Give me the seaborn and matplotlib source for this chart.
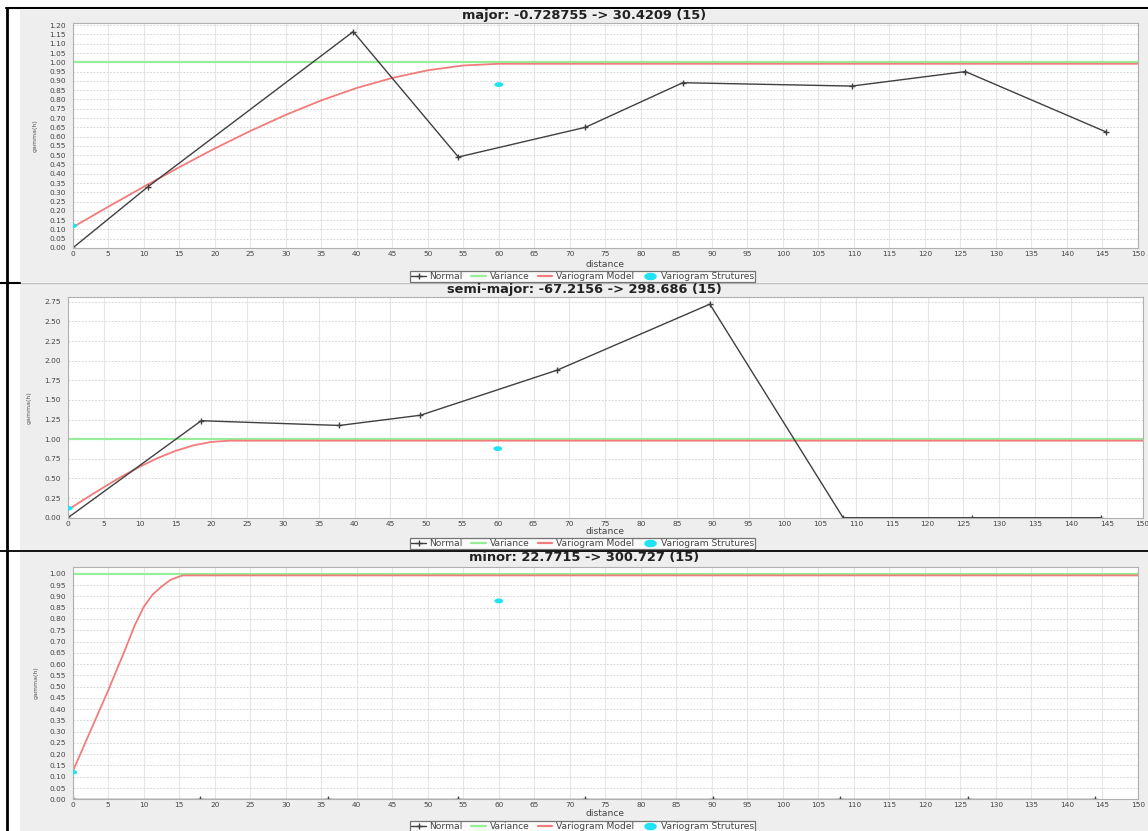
import numpy as np
import matplotlib
matplotlib.use("Agg")
import matplotlib.pyplot as plt
import matplotlib.transforms as mtransforms
from matplotlib.path import Path
from matplotlib.lines import Line2D
from matplotlib.patches import Rectangle
import seaborn as sns

# ---- experimental variogram points (lag distance, gamma) ----
major_lag = [0, 10.6, 39.5, 54.3, 72.2, 85.9, 109.7, 125.7, 145.5]
major_gamma = [0, 0.33, 1.165, 0.49, 0.65, 0.89, 0.872, 0.95, 0.625]

semi_lag = [0, 18.6, 37.9, 49.2, 68.3, 89.6, 108.2, 126.2, 144.2]
semi_gamma = [0, 1.235, 1.175, 1.305, 1.88, 2.72, 0, 0, 0]

minor_lag = [0, 17.9, 35.9, 54.3, 72.2, 90.1, 108.0, 126.0, 144.0]
minor_gamma = [0, 0, 0, 0, 0, 0, 0, 0, 0]

# ---- fitted variogram model curves ----
major_model_h = [0, 5, 10, 15, 20, 25, 30, 35, 40, 45, 50, 55, 60, 150]
major_model_g = [0.12, 0.23, 0.338, 0.443, 0.544, 0.638, 0.725, 0.803,
                 0.87, 0.924, 0.965, 0.991, 1.0, 1.0]

semi_model_h = [0, 2.5, 5, 7.5, 10, 12.5, 15, 17.5, 20, 22.5, 150]
semi_model_g = [0.12, 0.266, 0.408, 0.544, 0.668, 0.778, 0.870, 0.940,
                0.984, 1.0, 1.0]

minor_model_h = [0, 1.25, 2.5, 3.75, 5, 6.25, 7.5, 8.75, 10, 11.25, 12.5,
                 13.75, 15, 15.5, 150]
minor_model_g = [0.13, 0.22, 0.31, 0.40, 0.49, 0.585, 0.68, 0.78, 0.86,
                 0.915, 0.95, 0.98, 0.995, 1.0, 1.0]

# ---- sill (variance) and structure points ----
variance_h = [0, 150]
variance_g = [1.0, 1.0]
structure_h = [0, 60]
structure_g = [0.12, 0.88]

titles = ["major: -0.728755 -> 30.4209 (15)",
          "semi-major: -67.2156 -> 298.686 (15)",
          "minor: 22.7715 -> 300.727 (15)"]
legend_labels = ["Normal", "Variance", "Variogram Model", "Variogram Strutures"]

W, H = 1148, 831
sns.set_theme(style="white")
plt.rcParams["font.family"] = ["DejaVu Sans"]

fig = plt.figure(figsize=(W / 100, H / 100), dpi=100)
fig.patch.set_facecolor("white")


def fx(x):
    return x / W


def fy(y):
    return 1 - y / H


NORMAL_C = "#404040"
VAR_C = "#98ee98"
MODEL_C = "#f27c7c"
STRUCT_C = "#1fe3f2"
PANEL_BG = "#eeeeee"

# panel backgrounds and cell borders
panel_rows = [(10, 282), (284, 550), (552, 831)]
for top, bot in panel_rows:
    fig.patches.append(Rectangle((fx(20), fy(bot)), fx(W - 20), (bot - top) / H,
                                 transform=fig.transFigure, facecolor=PANEL_BG,
                                 edgecolor="none", zorder=-5))
fig.add_artist(Line2D([fx(7), fx(7)], [fy(7.5), 0], transform=fig.transFigure,
                      color="black", lw=2.0))
fig.add_artist(Line2D([fx(6), 1], [fy(8.3), fy(8.3)], transform=fig.transFigure,
                      color="black", lw=1.5))
fig.add_artist(Line2D([fx(20), 1], [fy(283), fy(283)], transform=fig.transFigure,
                      color="#bdbdbd", lw=1.0))
fig.add_artist(Line2D([0, fx(20)], [fy(283), fy(283)], transform=fig.transFigure,
                      color="black", lw=1.5))
fig.add_artist(Line2D([0, 1], [fy(551), fy(551)], transform=fig.transFigure,
                      color="black", lw=1.3))

# flattened dot used for the structure markers
ellipse = Path(Path.unit_circle().vertices * np.array([1.0, 0.55]),
               Path.unit_circle().codes)

panels = [
    dict(left=72.7, right=1138, top=23.3, bottom=248, ymax=1.21,
         yticks=np.arange(0, 1.2001, 0.05), lag=major_lag, gamma=major_gamma,
         mh=major_model_h, mg=major_model_g, title_y=15, xlabel_y=264,
         legend_y=276.7, ylabel_x=35),
    dict(left=68, right=1142.5, top=296.7, bottom=517.7, ymax=2.815,
         yticks=np.arange(0, 2.7501, 0.25), lag=semi_lag, gamma=semi_gamma,
         mh=semi_model_h, mg=semi_model_g, title_y=289, xlabel_y=531.5,
         legend_y=543.3, ylabel_x=29),
    dict(left=72.7, right=1138, top=566.7, bottom=799.3, ymax=1.032,
         yticks=np.arange(0, 1.0001, 0.05), lag=minor_lag, gamma=minor_gamma,
         mh=minor_model_h, mg=minor_model_g, title_y=558, xlabel_y=814,
         legend_y=826.3, ylabel_x=36),
]

for p, title in zip(panels, titles):
    ax = fig.add_axes([fx(p["left"]), fy(p["bottom"]),
                       (p["right"] - p["left"]) / W,
                       (p["bottom"] - p["top"]) / H])
    ax.set_zorder(1)
    ax.set_facecolor("white")
    ax.set_xlim(0, 150)
    ax.set_ylim(0, p["ymax"])
    ax.set_xticks(np.arange(0, 151, 5))
    ax.set_yticks(p["yticks"])
    ax.set_xticklabels([f"{v:d}" for v in range(0, 151, 5)])
    ax.set_yticklabels([f"{v:.2f}" for v in p["yticks"]])
    ax.tick_params(axis="both", length=1.5, width=0.5, color="#999999",
                   labelsize=5.3, labelcolor="#444444")
    ax.tick_params(axis="x", pad=0.8)
    ax.tick_params(axis="y", pad=3.5)
    ax.grid(axis="x", color="#e6e6e6", lw=0.8, ls="-")
    ax.grid(axis="y", color="#cdcdcd", lw=0.6, ls=(0, (2, 2)))
    ax.set_axisbelow(True)
    for s in ax.spines.values():
        s.set_color("#b0b0b0")
        s.set_linewidth(0.8)

    sns.lineplot(x=variance_h, y=variance_g, ax=ax, color=VAR_C, lw=1.6,
                 estimator=None, sort=False)
    sns.lineplot(x=p["mh"], y=p["mg"], ax=ax, color=MODEL_C, lw=1.3,
                 estimator=None, sort=False)
    ax.lines[-1].set_transform(
        mtransforms.offset_copy(ax.transData, fig=fig, x=0, y=-1.5, units="dots"))
    sns.lineplot(x=p["lag"], y=p["gamma"], ax=ax, color=NORMAL_C, lw=1.0,
                 estimator=None, sort=False, marker="+", markersize=4.5,
                 markeredgewidth=1.0, markeredgecolor=NORMAL_C)
    sns.scatterplot(x=structure_h, y=structure_g, ax=ax, marker=ellipse,
                    s=40, color=STRUCT_C, edgecolor="none", linewidth=0,
                    zorder=5)
    ax.set_xlabel("")
    ax.set_ylabel("")

    cx = (p["left"] + p["right"]) / 2
    fig.text(fx(584), fy(p["title_y"]), title, ha="center", va="center",
             fontsize=9.4, fontweight="bold", color="#222222", zorder=3)
    fig.text(fx(cx), fy(p["xlabel_y"]), "distance", ha="center", va="center",
             fontsize=6.6, color="#444444", zorder=3)
    fig.text(fx(p["ylabel_x"]), fy((p["top"] + p["bottom"]) / 2), "gamma(h)",
             rotation=90, ha="center", va="center", fontsize=4.5,
             color="#555555", zorder=3)

    handles = [
        Line2D([], [], color=NORMAL_C, lw=1.0, marker="+", markersize=5),
        Line2D([], [], color=VAR_C, lw=1.6),
        Line2D([], [], color=MODEL_C, lw=1.6),
        Line2D([], [], color=STRUCT_C, lw=0, marker=ellipse, markersize=8),
    ]
    leg = fig.legend(handles, legend_labels, loc="center",
                     bbox_to_anchor=(fx(582.5), fy(p["legend_y"])),
                     ncol=4, fontsize=6.6, frameon=True, fancybox=False,
                     handlelength=1.6, handletextpad=0.4, columnspacing=0.9,
                     borderpad=0.1, borderaxespad=0)
    leg.set_zorder(3)
    leg.get_frame().set_edgecolor("#555555")
    leg.get_frame().set_linewidth(0.9)
    leg.get_frame().set_facecolor("white")
    for t in leg.get_texts():
        t.set_color("#444444")

fig.savefig("out.png", dpi=100)
